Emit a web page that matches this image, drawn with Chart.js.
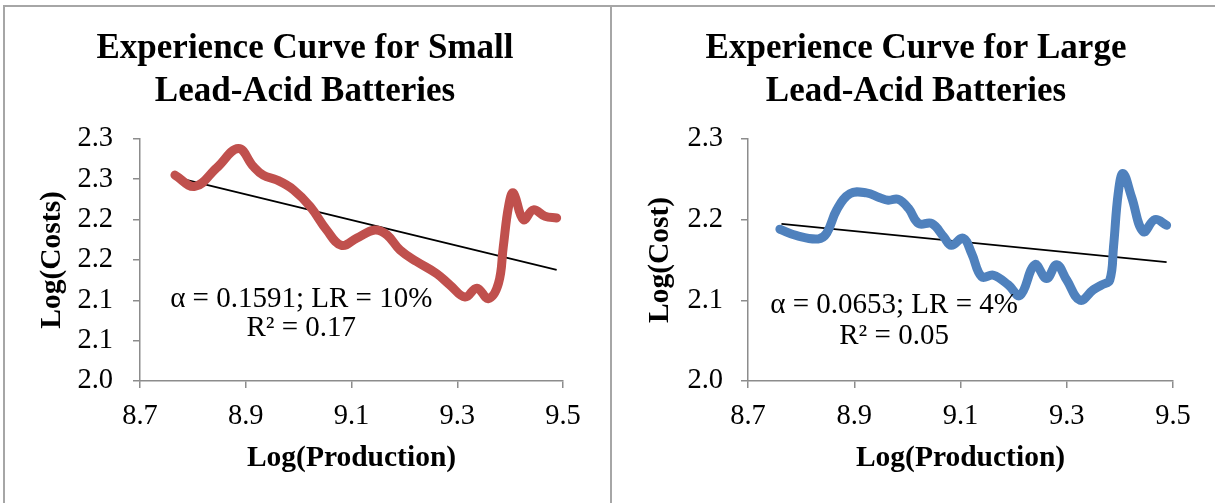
<!DOCTYPE html>
<html>
<head>
<meta charset="utf-8">
<title>Experience Curves - Lead-Acid Batteries</title>
<script src="https://cdn.jsdelivr.net/npm/chart.js@4.4.1/dist/chart.umd.min.js"></script>
<style>
  body { margin: 0; background: #fff; }
  #quadro { position: relative; width: 1215px; height: 503px; overflow: hidden; background: #fff; }
  #quadro canvas { position: absolute; top: 0; }
  #graficoPequena { left: 0; }
  #graficoGrande { left: 612px; }
  .linha { position: absolute; background: #a6a6a6; }
</style>
</head>
<body>
<div id="quadro">
  <div class="linha" style="left:3px;top:5px;width:1212px;height:2px"></div>
  <div class="linha" style="left:3px;top:5px;width:2px;height:498px"></div>
  <div class="linha" style="left:610px;top:5px;width:2px;height:498px"></div>
  <canvas id="graficoPequena" width="610" height="503"></canvas>
  <canvas id="graficoGrande" width="603" height="503"></canvas>
</div>
<script>
const serif = "'Liberation Serif', 'Times New Roman', serif";

// small batteries: log(production) vs log(costs)
const smallLogProd = [8.766, 8.804, 8.845, 8.886, 8.914, 8.933, 8.959, 8.990, 9.022, 9.053,
                      9.081, 9.110, 9.144, 9.167, 9.192, 9.223, 9.261, 9.286, 9.315, 9.337,
                      9.359, 9.378, 9.387, 9.397, 9.406, 9.425, 9.444, 9.466, 9.488];
const smallLogCost = [2.255, 2.241, 2.264, 2.288, 2.266, 2.255, 2.249, 2.237, 2.216, 2.187,
                      2.168, 2.177, 2.187, 2.181, 2.162, 2.148, 2.133, 2.119, 2.104, 2.115,
                      2.102, 2.121, 2.166, 2.216, 2.233, 2.200, 2.212, 2.204, 2.202];
const smallTrendProd = [8.766, 9.488];
const smallTrendCost = [2.2525, 2.1377];

// large batteries
const largeLogProd = [8.760, 8.792, 8.832, 8.848, 8.867, 8.892, 8.923, 8.948, 8.964, 8.983,
                      9.002, 9.021, 9.046, 9.068, 9.083, 9.105, 9.121, 9.140, 9.162, 9.190,
                      9.212, 9.240, 9.262, 9.281, 9.300, 9.325, 9.350, 9.366, 9.381, 9.388,
                      9.397, 9.406, 9.422, 9.444, 9.466, 9.488];
const largeLogCost = [2.188, 2.180, 2.176, 2.183, 2.212, 2.232, 2.233, 2.227, 2.224, 2.225,
                      2.214, 2.195, 2.195, 2.179, 2.168, 2.177, 2.158, 2.129, 2.131, 2.119,
                      2.106, 2.144, 2.127, 2.144, 2.125, 2.100, 2.113, 2.119, 2.125, 2.166,
                      2.233, 2.257, 2.228, 2.185, 2.200, 2.193];
const largeTrendProd = [8.763, 9.488];
const largeTrendCost = [2.1945, 2.1472];

const xTicks = [8.7, 8.9, 9.1, 9.3, 9.5];
const smallYTicks = [2.0, 2.05, 2.1, 2.15, 2.2, 2.25, 2.3];
const smallYLabels = ['2.0', '2.1', '2.1', '2.2', '2.2', '2.3', '2.3'];
const largeYTicks = [2.0, 2.1, 2.2, 2.3];
const largeYLabels = ['2.0', '2.1', '2.2', '2.3'];

const smallNote = ['α = 0.1591; LR = 10%', 'R² = 0.17'];
const largeNote = ['α = 0.0653; LR = 4%', 'R² = 0.05'];

// writes the regression text at a spot given in axis units
const notaPlugin = {
  id: 'nota',
  afterDatasetsDraw(chart, args, opts) {
    const {ctx, scales} = chart;
    const x = scales.x.getPixelForValue(opts.x);
    ctx.save();
    ctx.font = '29px ' + serif;
    ctx.fillStyle = '#000';
    ctx.textAlign = 'center';
    ctx.textBaseline = 'middle';
    opts.text.forEach((t, i) => ctx.fillText(t, x, scales.y.getPixelForValue(opts.y[i])));
    ctx.restore();
  }
};

function pontos(xs, ys) {
  return xs.map((v, i) => ({x: v, y: ys[i]}));
}

function criarGrafico(id, cfg) {
  const eixoCor = '#8c8c8c';
  return new Chart(document.getElementById(id), {
    type: 'line',
    data: {
      datasets: [{
        data: pontos(cfg.prod, cfg.cost),
        borderColor: cfg.cor,
        borderWidth: 9,
        tension: 0.4,
        pointRadius: 0,
        borderCapStyle: 'round',
        borderJoinStyle: 'round',
        fill: false
      }, {
        data: pontos(cfg.trendProd, cfg.trendCost),
        borderColor: '#000',
        borderWidth: 1.8,
        pointRadius: 0,
        tension: 0,
        fill: false
      }]
    },
    options: {
      responsive: false,
      animation: false,
      devicePixelRatio: 1,
      layout: { padding: { left: 47, right: cfg.padRight, top: 0, bottom: 0 } },
      plugins: {
        legend: { display: false },
        tooltip: { enabled: false },
        title: {
          display: true,
          text: cfg.title,
          color: '#000',
          font: { family: serif, size: 35, weight: 'bold', lineHeight: 1.24 },
          padding: { top: 27, bottom: 25 }
        },
        nota: { text: cfg.note, x: cfg.noteX, y: cfg.noteY }
      },
      scales: {
        x: {
          type: 'linear',
          min: 8.7,
          max: 9.5,
          afterBuildTicks: s => { s.ticks = xTicks.map(v => ({value: v})); },
          afterFit: s => { s.height = 122; },
          ticks: {
            color: '#000',
            font: { family: serif, size: 28.5 },
            padding: 11,
            autoSkip: false,
            maxRotation: 0,
            callback: v => v.toFixed(1)
          },
          grid: { drawOnChartArea: false, tickLength: 7, color: eixoCor, lineWidth: 1.5 },
          border: { color: eixoCor, width: 1.5 },
          title: {
            display: true,
            text: 'Log(Production)',
            color: '#000',
            font: { family: serif, size: 29.5, weight: 'bold' },
            padding: { top: 0, bottom: 27 }
          }
        },
        y: {
          type: 'linear',
          min: 2.0,
          max: 2.3,
          afterBuildTicks: s => { s.ticks = cfg.yTicks.map(v => ({value: v})); },
          afterFit: s => { s.width = cfg.yWidth; },
          ticks: {
            color: '#000',
            font: { family: serif, size: 28.5 },
            padding: cfg.yPad,
            autoSkip: false,
            callback: (v, i) => cfg.yLabels[i]
          },
          grid: { drawOnChartArea: false, tickLength: 7, color: eixoCor, lineWidth: 1.5 },
          border: { color: eixoCor, width: 1.5 },
          title: {
            display: true,
            text: cfg.yTitle,
            color: '#000',
            font: { family: serif, size: 29.5, weight: 'bold' },
            padding: { top: cfg.yTitlePad, bottom: 0 }
          }
        }
      }
    },
    plugins: [notaPlugin]
  });
}

criarGrafico('graficoPequena', {
  title: ['Experience Curve for Small', 'Lead-Acid Batteries'],
  yTitle: 'Log(Costs)',
  cor: 'rgb(192, 80, 77)',
  prod: smallLogProd, cost: smallLogCost,
  trendProd: smallTrendProd, trendCost: smallTrendCost,
  yTicks: smallYTicks, yLabels: smallYLabels,
  note: smallNote, noteX: 9.005, noteY: [2.101, 2.065],
  padRight: 47, yWidth: 93, yPad: 20, yTitlePad: -12.7
});

criarGrafico('graficoGrande', {
  title: ['Experience Curve for Large', 'Lead-Acid Batteries'],
  yTitle: 'Log(Cost)',
  cor: 'rgb(79, 129, 189)',
  prod: largeLogProd, cost: largeLogCost,
  trendProd: largeTrendProd, trendCost: largeTrendCost,
  yTicks: largeYTicks, yLabels: largeYLabels,
  note: largeNote, noteX: 8.975, noteY: [2.094, 2.055],
  padRight: 42, yWidth: 89, yPad: 18, yTitlePad: -16.7
});
</script>
</body>
</html>
